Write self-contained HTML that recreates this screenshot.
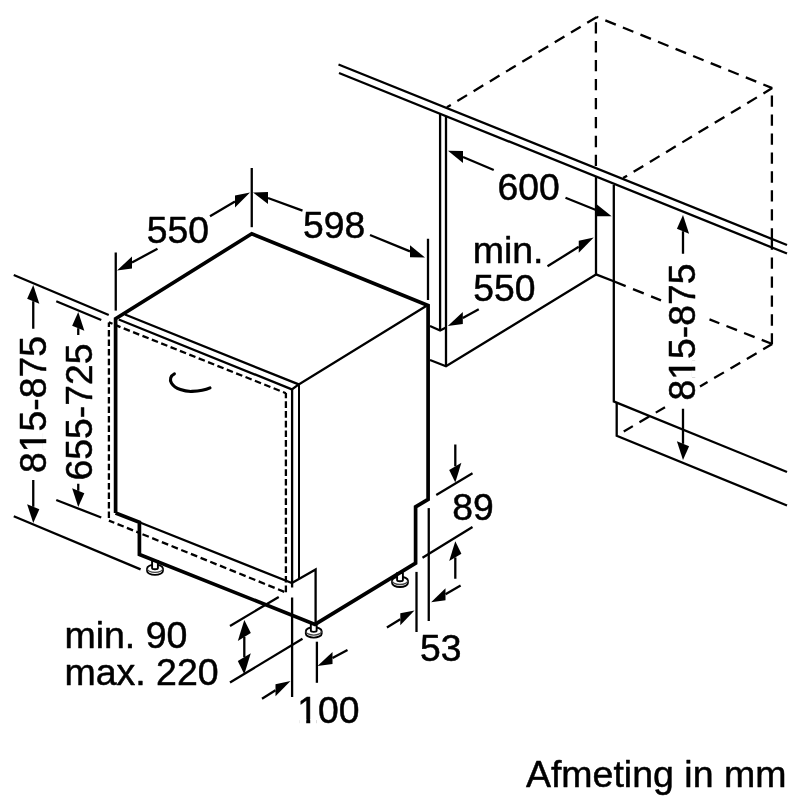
<!DOCTYPE html>
<html lang="nl">
<head>
<meta charset="utf-8">
<title>Afmeting in mm</title>
<style>
html,body{margin:0;padding:0;background:#fff;}
body{width:800px;height:800px;overflow:hidden;}
svg{display:block;will-change:transform;}
svg path{fill:none;stroke:#000;}
svg path.a{fill:#000;stroke:none;}
svg .w{fill:#fff;stroke:#000;}
svg path.g{fill:none;stroke:#444;}
svg rect.m{fill:#fff;stroke:none;}
svg text{font-family:"Liberation Sans",Arial,Helvetica,sans-serif;fill:#000;stroke:#000;stroke-width:0.5px;stroke-linejoin:round;}
</style>
</head>
<body>
<svg width="800" height="800" viewBox="0 0 800 800">
<rect x="0" y="0" width="800" height="800" fill="#fff"/>
<path d="M338.50,64.50 L787.00,245.00" stroke-width="2.3"/>
<path d="M339.00,73.00 L787.00,253.50" stroke-width="2.3"/>
<path d="M596.90,16.90 L446.90,107.25" stroke-width="2.3" stroke-dasharray="11.3 7.65"/>
<path d="M772.25,88.10 L596.90,16.90" stroke-width="2.3" stroke-dasharray="11.3 7.65" stroke-dashoffset="1.7"/>
<path d="M772.25,88.10 L623.10,178.10" stroke-width="2.3" stroke-dasharray="11.3 7.65" stroke-dashoffset="1.0"/>
<path d="M595.90,167.50 L595.90,16.90" stroke-width="2.3" stroke-dasharray="11.3 7.65" stroke-dashoffset="-1.4"/>
<path d="M771.90,88.10 L771.90,239.80" stroke-width="2.3" stroke-dasharray="11.3 7.65" stroke-dashoffset="11.5"/>
<path d="M771.90,344.00 L771.90,239.00" stroke-width="2.3" stroke-dasharray="11.3 7.65" stroke-dashoffset="0.6"/>
<path d="M772.25,344.00 L709.50,319.40" stroke-width="2.3" stroke-dasharray="11.3 7.65"/>
<path d="M614.90,281.80 L661.00,300.40" stroke-width="2.3" stroke-dasharray="11.6 7.9"/>
<path d="M596.00,274.40 L615.00,281.80" stroke-width="2.3"/>
<path d="M772.25,344.00 L700.00,386.40" stroke-width="2.3" stroke-dasharray="11.3 7.65" stroke-dashoffset="0.8"/>
<path d="M665.00,407.20 L623.75,431.50" stroke-width="2.3" stroke-dasharray="11.3 7.65" stroke-dashoffset="0.6"/>
<path d="M440.10,113.75 L440.10,330.50" stroke-width="2.3"/>
<path d="M446.00,116.25 L446.00,366.25" stroke-width="2.3"/>
<path d="M430.00,326.00 L440.10,330.50 L446.00,327.50" stroke-width="2.3"/>
<path d="M430.00,360.00 L446.00,366.25 L596.00,274.40" stroke-width="2.3"/>
<path d="M596.00,176.50 L596.00,274.80" stroke-width="2.3"/>
<path d="M613.80,185.00 L613.80,401.50" stroke-width="2.3"/>
<path d="M613.00,401.10 L787.00,472.00" stroke-width="2.3"/>
<path d="M616.70,402.00 L616.70,435.70 L787.00,505.50" stroke-width="2.3"/>
<g transform="translate(155.00 568.50)" stroke-width="1.9"><path class="w" d="M-7.9,0 L-7.9,2.5 A7.9,3.9 0 0 0 7.9,2.5 L7.9,0 A7.9,3.9 0 0 0 -7.9,0 Z"/><path class="g" d="M-7.9,0 A7.9,3.9 0 0 0 7.9,0" stroke-width="1.3"/><path class="w" d="M-2.9,-7.5 L-2.9,-0.6 A2.9,1.3 0 0 0 2.9,-0.6 L2.9,-7.5 Z"/></g>
<g transform="translate(313.75 631.20)" stroke-width="1.9"><path class="w" d="M-7.9,0 L-7.9,2.5 A7.9,3.9 0 0 0 7.9,2.5 L7.9,0 A7.9,3.9 0 0 0 -7.9,0 Z"/><path class="g" d="M-7.9,0 A7.9,3.9 0 0 0 7.9,0" stroke-width="1.3"/><path class="w" d="M-2.9,-7.5 L-2.9,-0.6 A2.9,1.3 0 0 0 2.9,-0.6 L2.9,-7.5 Z"/></g>
<g transform="translate(400.00 580.60)" stroke-width="1.9"><path class="w" d="M-7.9,0 L-7.9,2.5 A7.9,3.9 0 0 0 7.9,2.5 L7.9,0 A7.9,3.9 0 0 0 -7.9,0 Z"/><path class="g" d="M-7.9,0 A7.9,3.9 0 0 0 7.9,0" stroke-width="1.3"/><path class="w" d="M-2.9,-7.5 L-2.9,-0.6 A2.9,1.3 0 0 0 2.9,-0.6 L2.9,-7.5 Z"/></g>
<path d="M125.00,314.50 L298.75,384.40 L427.00,305.60" stroke-width="2.3"/>
<path d="M118.75,319.50 L291.90,389.40 L298.75,384.40" stroke-width="2.3"/>
<path d="M116.30,325.40 L285.90,393.20" stroke-width="2.3" stroke-dasharray="6.6 3.49" stroke-dashoffset="2.1"/>
<path d="M108.90,322.30 L112.50,323.80" stroke-width="2.3"/>
<path d="M108.90,322.50 L108.90,520.60" stroke-width="2.3" stroke-dasharray="6.5 3.06" stroke-dashoffset="2.1"/>
<path d="M285.90,592.50 L285.90,393.10" stroke-width="2.3" stroke-dasharray="6.7 3.0" stroke-dashoffset="-0.2"/>
<path d="M292.10,389.40 L292.10,587.50" stroke-width="2.3"/>
<path d="M299.00,384.40 L299.00,578.75" stroke-width="2.0"/>
<path d="M139.40,522.25 L291.90,583.10 L315.60,569.40 L315.60,623.75" stroke-width="2.3"/>
<path d="M108.90,520.60 L139.40,532.90" stroke-width="2.3" stroke-dasharray="6.6 3.5" stroke-dashoffset="0.8"/>
<path d="M142.50,534.20 L285.90,592.50" stroke-width="2.3" stroke-dasharray="6.8 3.65"/>
<path d="M115.60,513.00 L115.60,318.75 L251.75,233.75 L428.10,305.60 L428.10,499.40 L415.60,506.90 L415.60,563.10 L315.00,624.40 L139.40,554.40 L139.40,522.25 L115.60,513.00" stroke-width="3.7"/>
<path d="M174.4,373.8 C170.5,375.8 169.5,379.6 171.4,382.9 C175,389 185,391.7 192,391.4 C199,391.1 205.5,389.9 210,387.8" stroke-width="3.1" stroke-linecap="round"/>
<path d="M13.75,275.00 L108.75,315.00" stroke-width="2.3"/>
<path d="M56.25,301.25 L101.25,320.00" stroke-width="2.3"/>
<path d="M56.25,500.00 L101.25,517.50" stroke-width="2.3"/>
<path d="M13.75,516.25 L140.60,569.40" stroke-width="2.3"/>
<path d="M115.75,252.50 L115.75,310.60" stroke-width="2.3"/>
<path d="M251.75,168.00 L251.75,227.20" stroke-width="2.3"/>
<path d="M428.00,238.75 L428.00,300.00" stroke-width="2.3"/>
<path d="M157.50,248.75 L132.00,262.44" stroke-width="2.3"/>
<path class="a" d="M117.00,270.50 L132.00,268.44 L132.00,256.44Z"/>
<path d="M210.00,216.25 L235.00,201.41" stroke-width="2.3"/>
<path class="a" d="M250.00,192.50 L235.00,207.41 L235.00,195.41Z"/>
<path d="M302.50,210.60 L268.00,197.98" stroke-width="2.3"/>
<path class="a" d="M253.00,192.50 L268.00,203.98 L268.00,191.98Z"/>
<path d="M370.00,235.00 L410.00,251.36" stroke-width="2.3"/>
<path class="a" d="M425.00,257.50 L410.00,257.36 L410.00,245.36Z"/>
<path d="M493.75,170.00 L463.00,157.06" stroke-width="2.3"/>
<path class="a" d="M448.00,150.75 L463.00,163.06 L463.00,151.06Z"/>
<path d="M565.50,197.80 L596.60,210.21" stroke-width="2.3"/>
<path class="a" d="M611.60,216.20 L596.60,216.21 L596.60,204.21Z"/>
<path d="M478.75,309.30 L462.80,317.96" stroke-width="2.3"/>
<path class="a" d="M447.80,326.10 L462.80,323.96 L462.80,311.96Z"/>
<path d="M547.50,266.25 L578.75,246.82" stroke-width="2.3"/>
<path class="a" d="M593.75,237.50 L578.75,252.82 L578.75,240.82Z"/>
<path d="M683.00,253.75 L683.00,231.20" stroke-width="2.3"/>
<path class="a" d="M683.00,215.00 L689.10,233.64 L676.90,228.76Z"/>
<path d="M683.00,408.75 L683.00,443.80" stroke-width="2.3"/>
<path class="a" d="M683.00,460.00 L689.10,446.24 L676.90,441.36Z"/>
<path d="M33.25,328.75 L33.25,301.20" stroke-width="2.3"/>
<path class="a" d="M33.25,285.00 L39.35,303.64 L27.15,298.76Z"/>
<path d="M33.25,480.00 L33.25,506.80" stroke-width="2.3"/>
<path class="a" d="M33.25,523.00 L39.35,509.24 L27.15,504.36Z"/>
<path d="M78.25,335.00 L78.25,328.20" stroke-width="2.3"/>
<path class="a" d="M78.25,312.00 L84.35,330.64 L72.15,325.76Z"/>
<path d="M78.25,483.75 L78.25,490.80" stroke-width="2.3"/>
<path class="a" d="M78.25,507.00 L84.35,493.24 L72.15,488.36Z"/>
<path d="M436.25,495.00 L472.50,473.25" stroke-width="2.3"/>
<path d="M422.50,557.75 L472.50,527.00" stroke-width="2.3"/>
<path d="M455.30,444.50 L455.30,466.30" stroke-width="2.3"/>
<path class="a" d="M455.30,482.50 L461.40,462.64 L449.20,469.96Z"/>
<path d="M455.30,578.75 L455.30,557.45" stroke-width="2.3"/>
<path class="a" d="M455.30,541.25 L461.40,553.79 L449.20,561.11Z"/>
<path d="M416.50,571.90 L416.50,632.00" stroke-width="2.3"/>
<path d="M428.75,508.10 L428.75,621.00" stroke-width="2.3"/>
<path d="M460.60,585.60 L445.50,594.15" stroke-width="2.3"/>
<path class="a" d="M431.10,602.30 L445.50,600.15 L445.50,588.15Z"/>
<path d="M386.90,627.50 L400.30,619.29" stroke-width="2.3"/>
<path class="a" d="M414.50,610.60 L400.30,625.29 L400.30,613.29Z"/>
<path d="M292.10,597.50 L292.10,697.00" stroke-width="2.3"/>
<path d="M316.90,641.70 L316.90,682.80" stroke-width="2.3"/>
<path d="M347.50,650.00 L332.50,658.00" stroke-width="2.3"/>
<path class="a" d="M317.50,666.00 L332.50,664.00 L332.50,652.00Z"/>
<path d="M262.00,698.75 L275.50,690.34" stroke-width="2.3"/>
<path class="a" d="M290.50,681.00 L275.50,696.34 L275.50,684.34Z"/>
<path d="M230.00,626.00 L278.75,596.90" stroke-width="2.3"/>
<path d="M230.00,682.50 L302.50,638.75" stroke-width="2.3"/>
<path d="M244.30,647.00 L244.30,637.00" stroke-width="2.3"/>
<path class="a" d="M244.30,620.00 L250.80,633.10 L237.80,640.90Z"/>
<path d="M244.30,647.00 L244.30,657.20" stroke-width="2.3"/>
<path class="a" d="M244.30,674.20 L250.80,653.30 L237.80,661.10Z"/>
<text x="146.70" y="242.60" font-size="37.3" text-anchor="start">550</text>
<text x="302.90" y="237.70" font-size="37.3" text-anchor="start">598</text>
<text x="497.60" y="199.70" font-size="37.3" text-anchor="start">600</text>
<text x="472.70" y="263.10" font-size="37.5" text-anchor="start">min.</text>
<text x="473.20" y="300.60" font-size="37.3" text-anchor="start">550</text>
<g transform="rotate(-90 46.25 404.50)"><text x="46.25" y="404.50" font-size="37.3" text-anchor="middle">815-875</text><rect class="m" x="0.79" y="401.26" width="6.79" height="4.74"/><rect class="m" x="11.58" y="401.26" width="6.50" height="4.74"/></g>
<text x="92.00" y="412.00" font-size="37.3" text-anchor="middle" transform="rotate(-90 92.00 412.00)">655-725</text>
<g transform="rotate(-90 695.00 332.00)"><text x="695.00" y="332.00" font-size="37.3" text-anchor="middle">815-875</text><rect class="m" x="649.54" y="328.76" width="6.79" height="4.74"/><rect class="m" x="660.33" y="328.76" width="6.50" height="4.74"/></g>
<text x="452.20" y="519.50" font-size="37.3" text-anchor="start">89</text>
<text x="420.00" y="661.00" font-size="37.3" text-anchor="start">53</text>
<g><text x="297.20" y="722.60" font-size="37.3" text-anchor="start">100</text><rect class="m" x="299.44" y="719.36" width="6.79" height="4.74"/><rect class="m" x="310.23" y="719.36" width="6.50" height="4.74"/></g>
<text x="64.40" y="647.50" font-size="37.5" text-anchor="start">min. 90</text>
<text x="64.40" y="685.00" font-size="37.5" text-anchor="start">max. 220</text>
<text x="525.90" y="787.00" font-size="37.5" text-anchor="start">Afmeting in mm</text>
</svg>
</body>
</html>
